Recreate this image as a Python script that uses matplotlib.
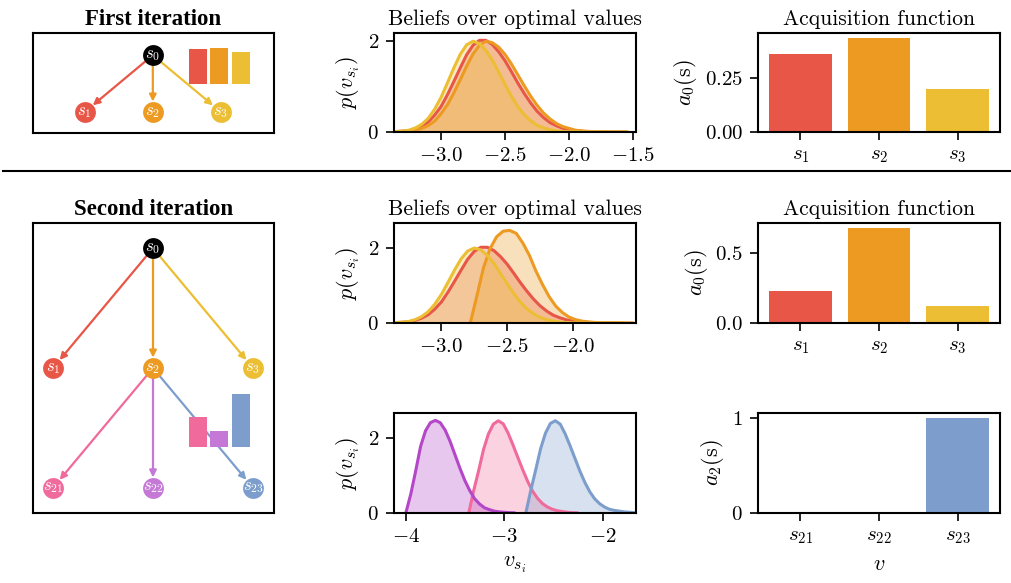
import numpy as np
import matplotlib.pyplot as plt
from matplotlib.lines import Line2D

plt.rcParams['font.family'] = 'serif'
plt.rcParams['font.serif'] = ['cmr10']
plt.rcParams['mathtext.fontset'] = 'cm'
plt.rcParams['axes.formatter.use_mathtext'] = True
plt.rcParams['axes.linewidth'] = 1.5

# node colours
RED = '#e85648'
ORANGE = '#ed9a22'
YELLOW = '#ecbe33'
PINK = '#f06a9b'
PURPLE = '#c578d5'
PURPLE_DARK = '#b446c8'
BLUE = '#7d9ecc'

# search trees (parent -> children)
first_tree = {'0': ['1', '2', '3']}
second_tree = {'0': ['1', '2', '3'], '2': ['21', '22', '23']}
node_colors = {'0': 'black', '1': RED, '2': ORANGE, '3': YELLOW,
               '21': PINK, '22': PURPLE, '23': BLUE}

# small bar glyphs drawn next to the expanded node
first_glyph = [0.97, 1.0, 0.89]
second_glyph = [0.57, 0.30, 1.0]

# belief densities, sampled every 0.05 from the given start value
step = 0.05
top_start = -3.35
belief_s1 = [0.01, 0.02, 0.03, 0.07, 0.13, 0.22, 0.37, 0.56, 0.82, 1.11,
             1.41, 1.70, 1.91, 2.02, 2.02, 1.93, 1.77, 1.57, 1.33, 1.08,
             0.85, 0.64, 0.46, 0.32, 0.21, 0.14, 0.085, 0.05, 0.03, 0.016,
             0.008, 0.004, 0.002, 0.001, 0, 0, 0]
belief_s2 = [0.0, 0.01, 0.02, 0.04, 0.08, 0.14, 0.24, 0.40, 0.60, 0.86,
             1.15, 1.45, 1.72, 1.91, 2.00, 1.97, 1.87, 1.71, 1.50, 1.26,
             1.02, 0.79, 0.59, 0.42, 0.29, 0.19, 0.12, 0.08, 0.04, 0.025,
             0.014, 0.007, 0.004, 0.002, 0.001, 0, 0]
belief_s3 = [0.01, 0.02, 0.04, 0.09, 0.17, 0.30, 0.50, 0.76, 1.08, 1.41,
             1.71, 1.92, 2.00, 1.95, 1.80, 1.59, 1.32, 1.05, 0.79, 0.56,
             0.38, 0.25, 0.15, 0.09, 0.05, 0.025, 0.013, 0.006, 0.002, 0.001,
             0, 0, 0, 0, 0, 0, 0]
s2_updated_start = -2.78
belief_s2_updated = [0, 0.72, 1.47, 1.98, 2.30, 2.45, 2.47, 2.39, 2.13, 1.80,
                     1.38, 1.02, 0.70, 0.45, 0.28, 0.16, 0.09, 0.05, 0.03,
                     0.015, 0.008, 0.004, 0.002, 0.001]
s21_start = -3.36
belief_s21 = [0, 0.60, 1.13, 1.70, 2.12, 2.38, 2.47, 2.39, 2.14, 1.82, 1.48,
              1.15, 0.84, 0.58, 0.39, 0.25, 0.16, 0.10, 0.06, 0.04, 0.02,
              0.01, 0.005]
s22_start = -4.00
belief_s22 = [0, 0.50, 1.12, 1.78, 2.20, 2.42, 2.48, 2.42, 2.22, 1.92, 1.56,
              1.20, 0.87, 0.60, 0.38, 0.24, 0.14, 0.09, 0.05, 0.03, 0.02,
              0.01, 0.005]
s23_start = -2.78
belief_s23 = [0, 0.60, 1.15, 1.72, 2.14, 2.40, 2.47, 2.38, 2.12, 1.80, 1.46,
              1.12, 0.82, 0.57, 0.38, 0.25, 0.16, 0.10, 0.07, 0.05, 0.03,
              0.02, 0.01]

# acquisition values
first_labels = [r'$s_1$', r'$s_2$', r'$s_3$']
first_acq = [0.366, 0.44, 0.20]
second_acq = [0.225, 0.676, 0.12]
leaf_labels = [r'$s_{21}$', r'$s_{22}$', r'$s_{23}$']
leaf_acq = [0.0, 0.0, 1.0]

W, H = 1012, 583
TITLE = 15.5
LABEL = 16
TICK = 15


def px_rect(x0, y0, x1, y1):
    return [x0 / W, 1 - y1 / H, (x1 - x0) / W, (y1 - y0) / H]


def layout(children, root='0'):
    pos = {root: (0.0, 0.0)}
    todo = [root]
    while todo:
        p = todo.pop()
        for i, c in enumerate(children.get(p, [])):
            pos[c] = (pos[p][0] + i - 1, pos[p][1] - 1)
            todo.append(c)
    return pos


def draw_tree(ax, children, glyph, glyph_colors, glyph_box):
    pos = layout(children)
    for p, kids in children.items():
        for c in kids:
            ax.annotate('', xy=pos[c], xytext=pos[p],
                        arrowprops=dict(arrowstyle='-|>', color=node_colors[c],
                                        lw=1.6, shrinkA=7.5, shrinkB=7.5,
                                        mutation_scale=10), zorder=2)
    for n, (x, y) in pos.items():
        ax.scatter(x, y, s=225, color=node_colors[n], zorder=3, linewidths=0)
        ax.text(x, y, r'$s_{%s}$' % n, color='white', fontsize=12,
                ha='center', va='center', zorder=4)
    ax.set_xticks([])
    ax.set_yticks([])
    ins = ax.inset_axes(glyph_box)
    ins.bar(range(3), glyph, width=0.84, color=glyph_colors)
    ins.set_xlim(-0.42, 2.42)
    ins.set_ylim(0, 1)
    ins.axis('off')


def draw_beliefs(ax, curves):
    for start, dens, line_c, fill_c, alpha in curves:
        v = start + step * np.arange(len(dens))
        ax.fill_between(v, dens, color=fill_c, alpha=alpha, lw=0)
        ax.plot(v, dens, color=line_c, lw=2.2)
    top = max(max(c[1]) for c in curves)
    ax.set_ylim(0, top * 1.08)
    ax.set_yticks([0, 2])
    ax.set_ylabel(r'$p(v_{s_i})$', fontsize=LABEL)


def draw_acq(ax, labels, values, colors, ticks, ylabel):
    ax.bar(range(len(values)), values, width=0.8, color=colors)
    ax.set_xticks(range(len(values)))
    ax.set_xticklabels(labels)
    ax.set_yticks(ticks)
    ax.set_ylabel(ylabel, fontsize=LABEL)


def style(ax):
    ax.tick_params(direction='out', length=5.8, width=1.2, labelsize=TICK,
                   pad=5)


fig = plt.figure(figsize=(10.12, 5.83), dpi=100)

# first iteration
ax = fig.add_axes(px_rect(33, 33, 274, 133))
draw_tree(ax, first_tree, first_glyph, [RED, ORANGE, YELLOW],
          [0.647, 0.49, 0.253, 0.36])
ax.set_xlim(-1.76, 1.78)
ax.set_ylim(-1.37, 0.39)
ax.set_title('First iteration', family='Liberation Serif', weight='bold',
             fontsize=16.5, pad=6)

ax = fig.add_axes(px_rect(394, 33, 636, 132))
draw_beliefs(ax, [(top_start, belief_s1, RED, RED, 0.3),
                  (top_start, belief_s2, ORANGE, ORANGE, 0.3),
                  (top_start, belief_s3, YELLOW, YELLOW, 0.3)])
ax.set_xlim(-3.367, -1.477)
ax.set_xticks([-3.0, -2.5, -2.0, -1.5])
ax.set_title('Beliefs over optimal values', fontsize=TITLE, pad=6)
style(ax)

ax = fig.add_axes(px_rect(758, 33, 1000, 132))
draw_acq(ax, first_labels, first_acq, [RED, ORANGE, YELLOW], [0, 0.25],
         r'$a_0(\mathrm{s})$')
ax.set_title('Acquisition function', fontsize=TITLE, pad=6)
style(ax)

fig.add_artist(Line2D([0.003, 1.0], [1 - 171 / H] * 2, color='black', lw=1.5))

# second iteration
ax = fig.add_axes(px_rect(33, 223, 274, 513))
draw_tree(ax, second_tree, second_glyph, [PINK, PURPLE, BLUE],
          [0.647, 0.228, 0.253, 0.183])
ax.set_xlim(-1.2, 1.21)
ax.set_ylim(-2.21, 0.21)
ax.set_title('Second iteration', family='Liberation Serif', weight='bold',
             fontsize=16.5, pad=6)

ax = fig.add_axes(px_rect(394, 223, 636, 323))
draw_beliefs(ax, [(top_start, belief_s1, RED, RED, 0.3),
                  (s2_updated_start, belief_s2_updated, ORANGE, ORANGE, 0.3),
                  (top_start, belief_s3, YELLOW, YELLOW, 0.3)])
ax.set_xlim(-3.36, -1.52)
ax.set_xticks([-3.0, -2.5, -2.0])
ax.set_title('Beliefs over optimal values', fontsize=TITLE, pad=6)
style(ax)

ax = fig.add_axes(px_rect(758, 223, 1000, 323))
draw_acq(ax, first_labels, second_acq, [RED, ORANGE, YELLOW], [0, 0.5],
         r'$a_0(\mathrm{s})$')
ax.set_title('Acquisition function', fontsize=TITLE, pad=6)
style(ax)

ax = fig.add_axes(px_rect(394, 413, 636, 513))
draw_beliefs(ax, [(s21_start, belief_s21, PINK, PINK, 0.3),
                  (s22_start, belief_s22, PURPLE_DARK, PURPLE_DARK, 0.3),
                  (s23_start, belief_s23, BLUE, BLUE, 0.3)])
ax.set_xlim(-4.12, -1.66)
ax.set_xticks([-4, -3, -2])
ax.set_xlabel(r'$v_{s_i}$', fontsize=LABEL, labelpad=6)
style(ax)

ax = fig.add_axes(px_rect(758, 413, 1000, 513))
draw_acq(ax, leaf_labels, leaf_acq, [PINK, PURPLE, BLUE], [0, 1],
         r'$a_2(\mathrm{s})$')
ax.set_xlabel(r'$v$', fontsize=LABEL, labelpad=6)
style(ax)

fig.savefig('out.png', dpi=100)
